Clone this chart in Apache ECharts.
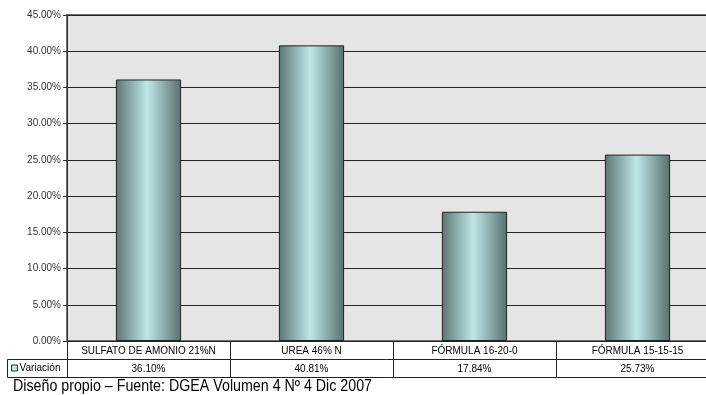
<!DOCTYPE html>
<html>
<head>
<meta charset="utf-8">
<script src="https://cdn.jsdelivr.net/npm/echarts@6/dist/echarts.min.js"></script>
<style>
  html, body { margin: 0; padding: 0; background: #ffffff; }
  #chart { width: 706px; height: 395px; }
</style>
</head>
<body>
<div id="chart"></div>
<script>
// Variación de precios por fertilizante (%)
const categories = ['SULFATO DE AMONIO 21%N', 'UREA 46% N', 'FÓRMULA 16-20-0', 'FÓRMULA 15-15-15'];
const variacion = [36.10, 40.81, 17.84, 25.73];
const seriesName = 'Variación';
const yTicks = { min: 0, max: 45, interval: 5 };
const caption = 'Diseño propio – Fuente: DGEA Volumen 4 Nº 4 Dic 2007';

const pct = v => v.toFixed(2) + '%';
const baseFont = 'Arial, "Liberation Sans", sans-serif';
const lineCol = '#222222';

const chart = echarts.init(document.getElementById('chart'), null, { renderer: 'canvas' });

const barGradient = new echarts.graphic.LinearGradient(0, 0, 1, 0, [
  { offset: 0, color: '#5c7673' },
  { offset: 0.48, color: '#bee7e6' },
  { offset: 1, color: '#58706d' }
]);

chart.setOption({
  animation: false,
  backgroundColor: '#ffffff',
  legend: {
    data: [seriesName],
    left: 11,
    top: 363,
    icon: 'rect',
    itemWidth: 6,
    itemHeight: 6,
    itemGap: 0,
    padding: 0,
    itemStyle: { color: '#bfe6e6', borderColor: '#333', borderWidth: 1 },
    textStyle: { fontFamily: baseFont, fontSize: 10, color: '#000', padding: [0, 0, 0, -3] }
  },
  grid: {
    left: 67, top: 15, width: 652, bottom: 54,
    containLabel: false,
    outerBoundsMode: 'none',
    show: true,
    backgroundColor: '#e5e5e5',
    borderColor: '#707070',
    borderWidth: 2
  },
  xAxis: [
    {
      type: 'category',
      data: categories,
      position: 'bottom',
      axisLine: { show: true, lineStyle: { color: lineCol, width: 1 } },
      axisTick: { show: true, length: 18, lineStyle: { color: lineCol } },
      axisLabel: { interval: 0, fontFamily: baseFont, fontSize: 10, color: '#000', margin: 5 }
    },
    {
      type: 'category',
      data: variacion.map(pct),
      position: 'bottom',
      offset: 18,
      axisLine: { show: true, lineStyle: { color: lineCol, width: 1 } },
      axisTick: { show: true, length: 18, lineStyle: { color: lineCol } },
      axisLabel: { interval: 0, fontFamily: baseFont, fontSize: 10, color: '#000', margin: 5 }
    },
    {
      type: 'category',
      data: categories,
      position: 'bottom',
      offset: 36,
      axisLine: { show: true, lineStyle: { color: lineCol, width: 1 } },
      axisTick: { show: false },
      axisLabel: { show: false }
    }
  ],
  yAxis: {
    type: 'value',
    min: yTicks.min,
    max: yTicks.max,
    interval: yTicks.interval,
    axisLine: { show: true, lineStyle: { color: '#333', width: 1 } },
    axisTick: { show: true, length: 4, lineStyle: { color: '#333' } },
    axisLabel: { formatter: v => pct(v), fontFamily: baseFont, fontSize: 10, color: '#333', margin: 6 },
    splitLine: { show: true, lineStyle: { color: lineCol, width: 1 } }
  },
  graphic: [
    {
      // legend cell frame, left of the data table
      type: 'polyline',
      shape: { points: [[67, 359.5], [7.5, 359.5], [7.5, 377.5], [67, 377.5]] },
      style: { stroke: lineCol, lineWidth: 1, fill: null },
      silent: true
    },
    {
      // source note under the table, narrow face
      type: 'text',
      x: 13,
      y: 379,
      scaleX: 0.89,
      style: {
        text: caption,
        fontFamily: '"Liberation Sans", Arial, sans-serif',
        fontSize: 16,
        fill: '#000'
      },
      silent: true
    }
  ],
  series: [
    {
      name: seriesName,
      type: 'bar',
      data: variacion,
      barWidth: '40%',
      itemStyle: { color: barGradient, borderColor: '#222', borderWidth: 1 }
    }
  ]
});
</script>
</body>
</html>
